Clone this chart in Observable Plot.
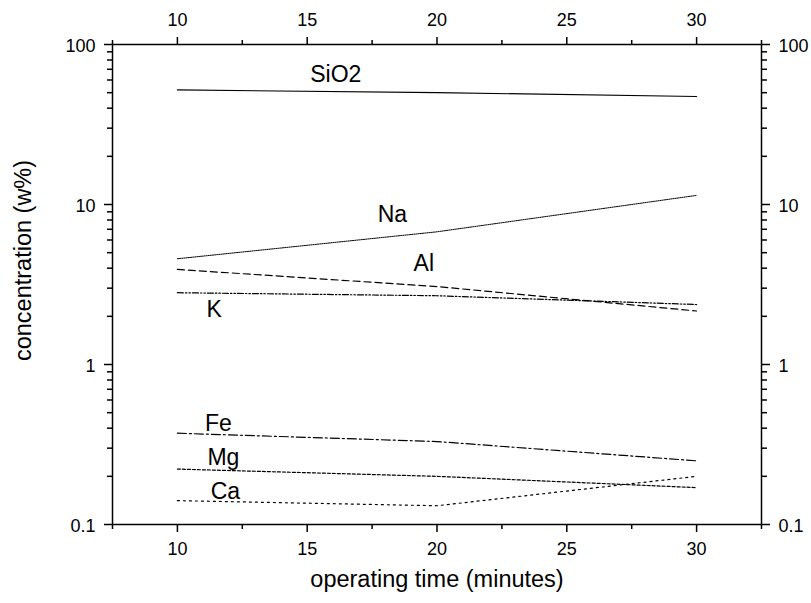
<!DOCTYPE html>
<html>
<head>
<meta charset="utf-8">
<script src="https://cdn.jsdelivr.net/npm/d3@7"></script>
<script src="https://cdn.jsdelivr.net/npm/@observablehq/plot@0.6"></script>
<style>
  body { margin: 0; background: #fff; }
  svg { display: block; }
</style>
</head>
<body>
<div id="chart"></div>
<script>
// ---- data ----
const times = [10, 20, 30];
const SiO2 = [52, 50, 47.3];
const Na = [4.58, 6.75, 11.4];
const Al = [3.93, 3.07, 2.16];
const K = [2.81, 2.69, 2.37];
const Fe = [0.372, 0.33, 0.25];
const Mg = [0.222, 0.2, 0.17];
const Ca = [0.141, 0.131, 0.2];

const seriesNames = ["SiO2", "Na", "Al", "K", "Fe", "Mg", "Ca"];
const seriesValues = [SiO2, Na, Al, K, Fe, Mg, Ca];

// label anchor points (data coordinates)
const labelX = [16.1, 18.28, 19.49, 11.42, 11.58, 11.77, 11.85];
const labelY = [64.9, 8.63, 4.26, 2.2, 0.43, 0.2635, 0.1615];

const xMajorTicks = [10, 15, 20, 25, 30];
const xMinorTicks = [7.5, 12.5, 17.5, 22.5, 27.5, 32.5];
const yMajorTicks = [0.1, 1, 10, 100];
const yMinorTicks = [0.2, 0.3, 0.4, 0.5, 0.6, 0.7, 0.8, 0.9,
                     2, 3, 4, 5, 6, 7, 8, 9,
                     20, 30, 40, 50, 60, 70, 80, 90];
const xTitle = "operating time (minutes)";
const yTitle = "concentration (w%)";

// ---- styles ----
const dashes = {
  SiO2: null,
  Na: "1.2,1",
  Al: "7,4",
  K: "6,2,1.5,2,1.5,2",
  Fe: "9,3,2,3",
  Mg: "3,2",
  Ca: "2,4"
};

const rows = seriesNames.flatMap((name, i) =>
  times.map((t, j) => ({ name, t, v: seriesValues[i][j] }))
);

const lineMarks = seriesNames.map(name =>
  Plot.line(rows.filter(r => r.name === name), {
    x: "t", y: "v", stroke: "black", strokeWidth: name === "Na" ? 1 : 1.2,
    ...(dashes[name] ? { strokeDasharray: dashes[name] } : {})
  })
);

const tickFont = 18;
const fmt = d => String(d);
const blank = () => "";

const chart = Plot.plot({
  width: 811,
  height: 603,
  marginLeft: 112,
  marginRight: 50,
  marginTop: 44,
  marginBottom: 79,
  style: { fontFamily: "'Liberation Sans', Arial, sans-serif", fontSize: "18px", color: "black", background: "white" },
  x: { domain: [7.5, 32.5] },
  y: { type: "log", domain: [0.1, 100] },
  marks: [
    ...lineMarks,
    Plot.text(seriesNames, {
      x: (d, i) => labelX[i], y: (d, i) => labelY[i], text: d => d,
      fontSize: 23, fill: "black"
    }),
    // bottom axis
    Plot.axisX({ anchor: "bottom", ticks: xMajorTicks, tickSize: 8, tickPadding: 10, tickFormat: fmt, fontSize: tickFont, label: null, strokeWidth: 1.5 }),
    Plot.axisX({ anchor: "bottom", ticks: xMinorTicks, tickSize: 5, tickFormat: blank, label: null, strokeWidth: 1.5 }),
    // top axis
    Plot.axisX({ anchor: "top", ticks: xMajorTicks, tickSize: 8, tickPadding: 11, tickFormat: fmt, fontSize: tickFont, label: null, strokeWidth: 1.5 }),
    Plot.axisX({ anchor: "top", ticks: xMinorTicks, tickSize: 5, tickFormat: blank, label: null, strokeWidth: 1.5 }),
    // left axis
    Plot.axisY({ anchor: "left", ticks: yMajorTicks, tickSize: 8, tickFormat: blank, label: null, strokeWidth: 1.5 }),
    Plot.axisY({ anchor: "left", ticks: yMinorTicks, tickSize: 5, tickFormat: blank, label: null, strokeWidth: 1.5 }),
    Plot.axisY({ anchor: "left", ticks: yMajorTicks, tickSize: 0, tickPadding: 17, dy: 2, tickFormat: fmt, fontSize: tickFont, label: null }),
    // right axis
    Plot.axisY({ anchor: "right", ticks: yMajorTicks, tickSize: 8, tickFormat: blank, label: null, strokeWidth: 1.5 }),
    Plot.axisY({ anchor: "right", ticks: yMinorTicks, tickSize: 5, tickFormat: blank, label: null, strokeWidth: 1.5 }),
    Plot.axisY({ anchor: "right", ticks: yMajorTicks, tickSize: 0, tickPadding: 17, dy: 2, tickFormat: fmt, fontSize: tickFont, label: null }),
    // axis titles
    Plot.text([xTitle], { frameAnchor: "bottom", textAnchor: "middle", dy: 62, fontSize: 23.5, fill: "black" }),
    Plot.text([yTitle], { frameAnchor: "left", textAnchor: "middle", dx: -89.5, dy: -24, rotate: -90, fontSize: 23.5, fill: "black" }),
    Plot.frame({ stroke: "black", strokeWidth: 1.5 })
  ]
});

document.getElementById("chart").appendChild(chart);
</script>
</body>
</html>
